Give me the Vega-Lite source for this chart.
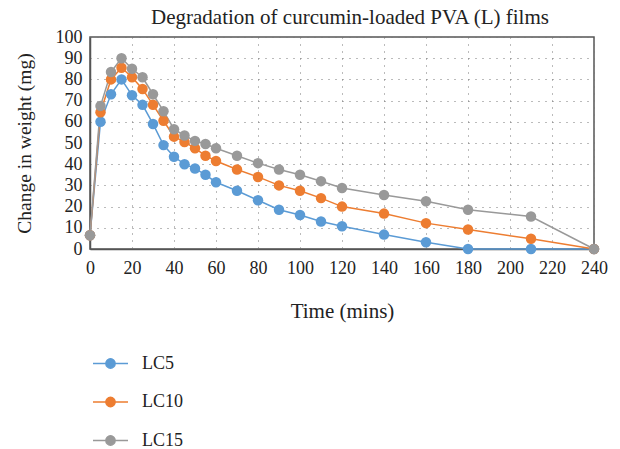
{
  "$schema": "https://vega.github.io/schema/vega-lite/v6.json",
  "autosize": "none",
  "width": 504,
  "height": 212,
  "padding": {"left": 90, "top": 37, "right": 26, "bottom": 200},
  "title": {"text": "Degradation of curcumin-loaded PVA (L) films", "font": "Liberation Serif", "fontSize": 21, "fontWeight": "normal", "color": "#222", "anchor": "middle", "offset": 0, "dx": 8},
  "config": {
    "view": {"stroke": "#555", "strokeWidth": 1.5},
    "font": "Liberation Serif"
  },
  "data": {"values": [
    {"t":0,"s":"LC5","w":6.5},{"t":5,"s":"LC5","w":60},{"t":10,"s":"LC5","w":73},{"t":15,"s":"LC5","w":80},{"t":20,"s":"LC5","w":72.5},{"t":25,"s":"LC5","w":68},{"t":30,"s":"LC5","w":59},{"t":35,"s":"LC5","w":49},{"t":40,"s":"LC5","w":43.5},{"t":45,"s":"LC5","w":40},{"t":50,"s":"LC5","w":38},{"t":55,"s":"LC5","w":35},{"t":60,"s":"LC5","w":31.5},{"t":70,"s":"LC5","w":27.5},{"t":80,"s":"LC5","w":23},{"t":90,"s":"LC5","w":18.5},{"t":100,"s":"LC5","w":16},{"t":110,"s":"LC5","w":13},{"t":120,"s":"LC5","w":10.7},{"t":140,"s":"LC5","w":6.8},{"t":160,"s":"LC5","w":3.2},{"t":180,"s":"LC5","w":0},{"t":210,"s":"LC5","w":0},{"t":240,"s":"LC5","w":0},
    {"t":0,"s":"LC10","w":6.5},{"t":5,"s":"LC10","w":64.5},{"t":10,"s":"LC10","w":80},{"t":15,"s":"LC10","w":85.5},{"t":20,"s":"LC10","w":81},{"t":25,"s":"LC10","w":75.5},{"t":30,"s":"LC10","w":68},{"t":35,"s":"LC10","w":60.5},{"t":40,"s":"LC10","w":53},{"t":45,"s":"LC10","w":50.5},{"t":50,"s":"LC10","w":47.5},{"t":55,"s":"LC10","w":44},{"t":60,"s":"LC10","w":41.5},{"t":70,"s":"LC10","w":37.5},{"t":80,"s":"LC10","w":34},{"t":90,"s":"LC10","w":30},{"t":100,"s":"LC10","w":27.5},{"t":110,"s":"LC10","w":24},{"t":120,"s":"LC10","w":20},{"t":140,"s":"LC10","w":16.7},{"t":160,"s":"LC10","w":12.2},{"t":180,"s":"LC10","w":9.2},{"t":210,"s":"LC10","w":4.8},{"t":240,"s":"LC10","w":0},
    {"t":0,"s":"LC15","w":6.5},{"t":5,"s":"LC15","w":67.5},{"t":10,"s":"LC15","w":83.5},{"t":15,"s":"LC15","w":90},{"t":20,"s":"LC15","w":85},{"t":25,"s":"LC15","w":81},{"t":30,"s":"LC15","w":73},{"t":35,"s":"LC15","w":65},{"t":40,"s":"LC15","w":56.5},{"t":45,"s":"LC15","w":53.5},{"t":50,"s":"LC15","w":51},{"t":55,"s":"LC15","w":49.5},{"t":60,"s":"LC15","w":47.5},{"t":70,"s":"LC15","w":44},{"t":80,"s":"LC15","w":40.5},{"t":90,"s":"LC15","w":37.5},{"t":100,"s":"LC15","w":35},{"t":110,"s":"LC15","w":32},{"t":120,"s":"LC15","w":28.8},{"t":140,"s":"LC15","w":25.5},{"t":160,"s":"LC15","w":22.5},{"t":180,"s":"LC15","w":18.5},{"t":210,"s":"LC15","w":15.3},{"t":240,"s":"LC15","w":0}
  ]},
  "mark": {"type": "line", "strokeWidth": 1.5, "point": {"filled": true, "size": 110, "opacity": 1}},
  "encoding": {
    "x": {"field": "t", "type": "quantitative", "title": "Time (mins)",
      "scale": {"domain": [0, 240], "nice": false},
      "axis": {"values": [0,20,40,60,80,100,120,140,160,180,200,220,240], "labelFont": "Liberation Serif", "labelFontSize": 18, "labelColor": "#222", "labelFlush": false, "labelOverlap": false, "titleFont": "Liberation Serif", "titleFontSize": 21, "titleFontWeight": "normal", "titleColor": "#222", "ticks": false, "labelPadding": 10, "titlePadding": 23, "domainColor": "#555", "domainWidth": 1.5, "gridColor": "#777", "gridDash": [1, 6], "gridWidth": 1}},
    "y": {"field": "w", "type": "quantitative", "title": "Change in weight (mg)",
      "scale": {"domain": [0, 100], "nice": false},
      "axis": {"values": [0,10,20,30,40,50,60,70,80,90,100], "labelFont": "Liberation Serif", "labelFontSize": 18, "labelColor": "#222", "labelFlush": false, "labelOverlap": false, "titleFont": "Liberation Serif", "titleFontSize": 19.5, "titleFontWeight": "normal", "titleColor": "#222", "ticks": false, "labelPadding": 8, "titlePadding": 21, "domainColor": "#555", "domainWidth": 1.5, "gridColor": "#777", "gridDash": [1, 6], "gridWidth": 1}},
    "color": {"field": "s", "type": "nominal", "sort": ["LC5", "LC10", "LC15"],
      "scale": {"domain": ["LC5", "LC10", "LC15"], "range": ["#5B9BD5", "#ED7D31", "#999999"]},
      "legend": {"title": null, "orient": "none", "legendX": 9, "legendY": 315, "direction": "vertical", "padding": 0,
        "symbolType": "M-1.7,0L-0.45,0M0.45,0L1.7,0M-0.45,0A0.45,0.45 0 1 1 0.45,0A0.45,0.45 0 1 1 -0.45,0Z",
        "symbolSize": 424, "symbolStrokeWidth": 1.5, "symbolFillColor": null,
        "labelFont": "Liberation Serif", "labelFontSize": 18, "labelColor": "#222", "labelOffset": 20, "rowPadding": 17.5}}
  }
}
